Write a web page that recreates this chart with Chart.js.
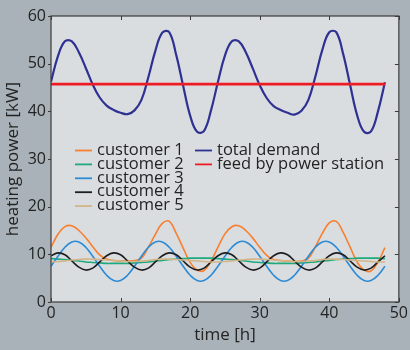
<!DOCTYPE html>
<html>
<head>
<meta charset="utf-8">
<script src="https://cdn.jsdelivr.net/npm/chart.js@4.4.1/dist/chart.umd.min.js"></script>
<style>
  html, body { margin: 0; padding: 0; background: #a8b2b8; }
  #wrap { width: 410px; height: 350px; }
</style>
</head>
<body>
<div id="wrap"><canvas id="c" width="410" height="350"></canvas></div>
<script>
// Hourly heating power over two days, kW
const hours = [0,1,2,3,4,5,6,7,8,9,10,11,12,13,14,15,16,17,18,19,20,21,22,23,24,
               25,26,27,28,29,30,31,32,33,34,35,36,37,38,39,40,41,42,43,44,45,46,47,48];

const customer1 = [11.5,14.2,15.8,16.0,15.0,13.5,11.6,9.9,9.0,8.7,8.6,8.6,8.7,9.2,11.5,14.2,16.5,16.9,14.4,11.3,8.3,6.7,6.6,8.6,
                   11.5,14.3,15.8,16.0,15.0,13.4,11.5,9.8,8.9,8.7,8.6,8.5,8.6,9.2,11.6,14.4,16.6,16.9,14.6,11.5,8.4,6.7,6.5,8.4,11.4];
const customer2 = [9.1,9.0,8.9,8.7,8.6,8.4,8.3,8.2,8.1,8.1,8.1,8.1,8.2,8.3,8.4,8.6,8.7,8.9,9.0,9.1,9.2,9.2,9.2,9.2,
                   9.1,9.0,8.9,8.7,8.6,8.4,8.3,8.2,8.1,8.1,8.1,8.1,8.2,8.3,8.4,8.6,8.7,8.9,9.0,9.1,9.2,9.2,9.2,9.2,9.1];
const customer3 = [7.5,9.6,11.5,12.6,12.6,11.5,9.6,7.5,5.6,4.5,4.5,5.6,7.5,9.6,11.5,12.6,12.6,11.5,9.6,7.5,5.6,4.5,4.5,5.6,
                   7.5,9.6,11.5,12.6,12.6,11.5,9.6,7.5,5.6,4.5,4.5,5.6,7.5,9.6,11.5,12.6,12.6,11.5,9.6,7.5,5.6,4.5,4.5,5.6,7.5];
const customer4 = [9.7,10.3,9.9,8.6,7.3,6.7,7.1,8.4,9.7,10.3,9.9,8.6,7.3,6.7,7.1,8.4,9.7,10.3,9.9,8.6,7.3,6.7,7.1,8.4,
                   9.7,10.3,9.9,8.6,7.3,6.7,7.1,8.4,9.7,10.3,9.9,8.6,7.3,6.7,7.1,8.4,9.7,10.3,9.9,8.6,7.3,6.7,7.1,8.4,9.7];
const customer5 = [8.4,8.5,8.6,8.8,8.9,9.0,9.0,8.9,8.8,8.7,8.6,8.5,8.5,8.6,8.7,8.9,9.0,9.0,8.9,8.8,8.7,8.6,8.5,8.4,
                   8.4,8.5,8.6,8.8,8.9,9.0,9.0,8.9,8.8,8.7,8.6,8.5,8.5,8.6,8.7,8.9,9.0,9.0,8.9,8.8,8.7,8.6,8.5,8.4,8.4];
const totalDemand = [46.2,51.6,54.7,54.7,52.4,49.1,45.6,42.9,41.2,40.3,39.7,39.4,40.2,42.4,47.2,52.7,56.5,56.6,51.8,45.3,39.1,35.7,35.9,40.2,
                     46.2,51.7,54.7,54.7,52.4,49.0,45.5,42.8,41.1,40.3,39.7,39.3,40.1,42.4,47.3,52.9,56.6,56.6,52.0,45.5,39.2,35.7,35.8,40.0,46.1];
const feedHours = [0, 48];
const feedPower = [45.7, 45.7];

const seriesNames = ['customer 1','customer 2','customer 3','customer 4','customer 5','total demand','feed by power station'];
const seriesColors = ['#f77f2f','#1fa97c','#2d8bd6','#1e1e1e','#d3b58a','#2e3192','#ed1c24'];
const seriesWidths = [1.6,1.6,1.6,1.6,1.6,2.2,2.6];

const xTicks = [0,10,20,30,40,50];
const yTicks = [0,10,20,30,40,50,60];

const FONT = '"Open Sans", "DejaVu Sans", sans-serif';
const TEXT = '#232323';

function pts(xs, ys) { return xs.map((x, i) => ({ x: x, y: ys[i] })); }

const seriesData = [
  pts(hours, customer1), pts(hours, customer2), pts(hours, customer3),
  pts(hours, customer4), pts(hours, customer5), pts(hours, totalDemand),
  pts(feedHours, feedPower)
];

const datasets = seriesData.map((d, i) => ({
  label: seriesNames[i],
  data: d,
  borderColor: seriesColors[i],
  backgroundColor: seriesColors[i],
  borderWidth: seriesWidths[i],
  pointRadius: 0,
  tension: 0.4,
  fill: false,
  order: seriesNames.length - i
}));

// panel backgrounds
const backdrop = {
  id: 'backdrop',
  beforeDraw(chart) {
    const { ctx, chartArea: a } = chart;
    ctx.save();
    ctx.fillStyle = '#a8b2b8';
    ctx.fillRect(0, 0, chart.width, chart.height);
    ctx.fillStyle = '#dadddf';
    ctx.fillRect(a.left, a.top, a.right - a.left, a.bottom - a.top);
    ctx.restore();
  }
};

// axes box with tick marks
const frame = {
  id: 'frame',
  afterDatasetsDraw(chart) {
    const { ctx, chartArea: a, scales } = chart;
    ctx.save();
    ctx.strokeStyle = '#3c3c3c';
    ctx.lineWidth = 1.2;
    ctx.strokeRect(a.left, a.top, a.right - a.left, a.bottom - a.top);
    ctx.lineWidth = 1;
    ctx.beginPath();
    xTicks.forEach(v => {
      const x = Math.round(scales.x.getPixelForValue(v)) + 0.5;
      ctx.moveTo(x, a.bottom); ctx.lineTo(x, a.bottom - 4);
      ctx.moveTo(x, a.top); ctx.lineTo(x, a.top + 4);
    });
    yTicks.forEach(v => {
      const y = Math.round(scales.y.getPixelForValue(v)) + 0.5;
      ctx.moveTo(a.left, y); ctx.lineTo(a.left - 3, y);
      ctx.moveTo(a.right, y); ctx.lineTo(a.right - 4, y);
    });
    ctx.stroke();
    ctx.restore();
  }
};

// two-column legend inside the plot
const legendBox = {
  id: 'legendBox',
  afterDatasetsDraw(chart) {
    const { ctx } = chart;
    const colX = [75, 195];
    const rowY0 = 150, rowH = 13.9, lineLen = 17, gap = 5;
    ctx.save();
    ctx.font = '16.5px ' + FONT;
    ctx.textBaseline = 'middle';
    ctx.textAlign = 'left';
    chart.data.datasets.forEach((ds, i) => {
      const col = Math.floor(i / 5), row = i % 5;
      const x = colX[col], y = rowY0 + row * rowH;
      ctx.strokeStyle = ds.borderColor;
      ctx.lineWidth = 1.8;
      ctx.beginPath();
      ctx.moveTo(x, y + 0.5); ctx.lineTo(x + lineLen, y + 0.5);
      ctx.stroke();
      ctx.fillStyle = TEXT;
      ctx.fillText(ds.label, x + lineLen + gap, y);
    });
    ctx.restore();
  }
};

new Chart(document.getElementById('c'), {
  type: 'line',
  data: { datasets: datasets },
  options: {
    responsive: false,
    animation: false,
    events: [],
    layout: { padding: { left: 0, right: 8, top: 16, bottom: 0 } },
    plugins: { legend: { display: false }, tooltip: { enabled: false } },
    scales: {
      x: {
        type: 'linear', min: 0, max: 50,
        afterBuildTicks(s) { s.ticks = xTicks.map(v => ({ value: v })); },
        ticks: { color: TEXT, font: { family: FONT, size: 16 }, padding: 2, maxRotation: 0 },
        grid: { display: false, drawTicks: false },
        border: { display: false },
        title: { display: true, text: 'time [h]', color: TEXT, font: { family: FONT, size: 17 }, padding: { top: 0, bottom: 5 } },
        afterFit(s) { s.height = 48; }
      },
      y: {
        type: 'linear', min: 0, max: 60,
        afterBuildTicks(s) { s.ticks = yTicks.map(v => ({ value: v })); },
        ticks: { color: TEXT, font: { family: FONT, size: 16 }, padding: 5 },
        grid: { display: false, drawTicks: false },
        border: { display: false },
        title: { display: true, text: 'heating power [kW]', color: TEXT, font: { family: FONT, size: 17 }, padding: { top: 3, bottom: 0 } },
        afterFit(s) { s.width = 51; }
      }
    }
  },
  plugins: [backdrop, frame, legendBox]
});
</script>
</body>
</html>
